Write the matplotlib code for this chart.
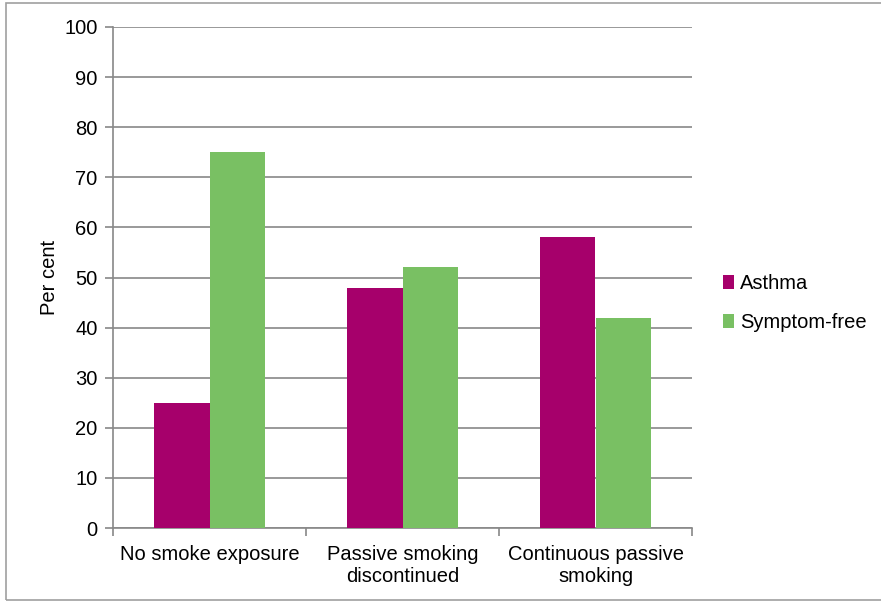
import numpy as np
import matplotlib.pyplot as plt
from matplotlib.patches import Rectangle

plt.rcParams['font.family'] = ['Liberation Sans', 'DejaVu Sans']

categories = ['No smoke exposure', 'Passive smoking\ndiscontinued', 'Continuous passive\nsmoking']
asthma = [25, 48, 58]
symptom_free = [75, 52, 42]
yticks = list(range(0, 101, 10))

c_asthma = '#A6006B'
c_free = '#79C063'
fs = 14.5

fig = plt.figure(figsize=(8.81, 6.02), dpi=100)
# outer chart frame
fig.patches.append(Rectangle((6 / 881, 2 / 602), 1.0, 597 / 602, transform=fig.transFigure,
                             fill=False, edgecolor='#A0A0A0', lw=1.2, zorder=0))
ax = fig.add_axes([113 / 881, 1 - 528 / 602, 579 / 881, 501 / 602])

x = np.arange(len(categories))
w = 0.285
ax.bar(x - w / 2, asthma, w, color=c_asthma, label='Asthma', zorder=3)
ax.bar(x + w / 2, symptom_free, w, color=c_free, label='Symptom-free', zorder=3)

ax.set_xlim(-0.5, 2.5)
ax.set_ylim(0, 100)
ax.set_yticks(yticks)
ax.set_yticklabels([str(t) for t in yticks], fontsize=fs)
ax.set_xticks(x)
ax.set_xticklabels(categories, fontsize=fs, linespacing=1.25)
ax.tick_params(axis='x', length=0, pad=12)
ax.set_xticks([-0.5, 0.5, 1.5, 2.5], minor=True)
ax.tick_params(axis='x', which='minor', length=6, color='#888888', width=1.2)
ax.tick_params(axis='y', length=6, color='#888888', width=1.2, pad=5)
ax.grid(axis='y', color='#888888', lw=1.2, zorder=0)
ax.set_axisbelow(True)
for s in ['top', 'right']:
    ax.spines[s].set_visible(False)
for s in ['left', 'bottom']:
    ax.spines[s].set_color('#888888')
    ax.spines[s].set_linewidth(1.2)
ax.set_ylabel('Per cent', fontsize=fs, labelpad=4)

ax.legend(loc='center left', bbox_to_anchor=(1.054, 0.449), frameon=False, fontsize=fs,
          handlelength=0.55, handleheight=0.7, handletextpad=0.3, labelspacing=1.0,
          borderaxespad=0, borderpad=0)

fig.savefig('out.png', dpi=100)
